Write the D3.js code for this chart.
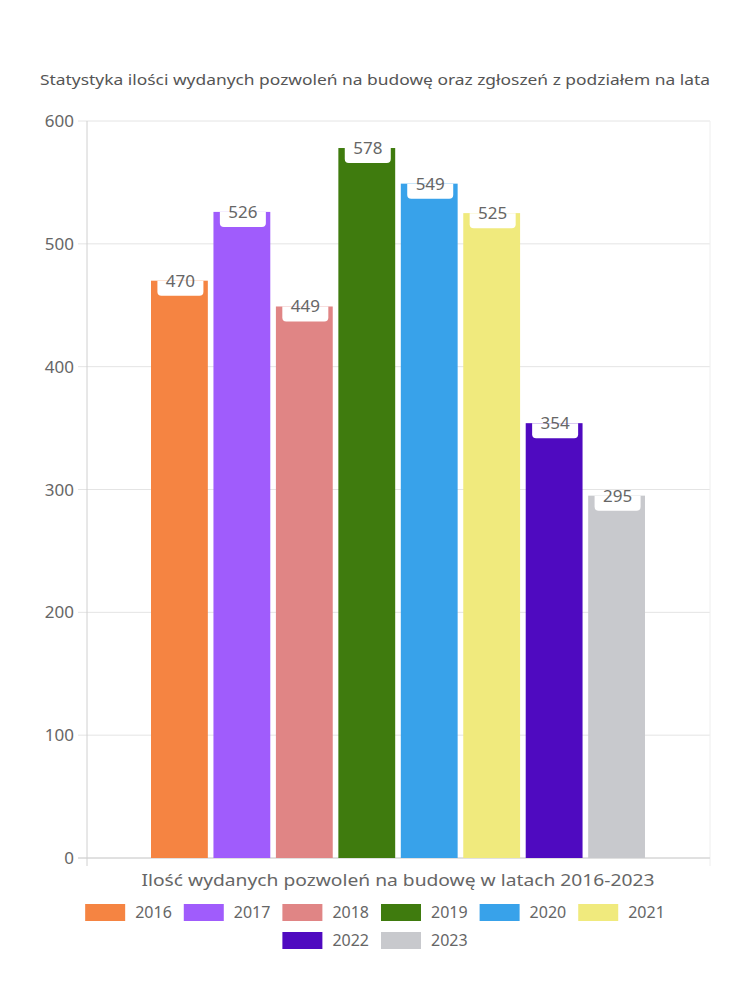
<!DOCTYPE html>
<html><head><meta charset="utf-8">
<script src="https://cdn.jsdelivr.net/npm/d3@7"></script>
<style>body{margin:0;background:#fff}svg text{font-family:"Noto Sans",sans-serif}</style>
</head><body><svg id="c" width="750" height="1000"></svg>
<script>
const years = ["2016","2017","2018","2019","2020","2021","2022","2023"];
const values = [470,526,449,578,549,525,354,295];
const colors = ["#f58442","#a05cfc","#e08585","#3f7b0e","#38a2ea","#f0ea7d","#4f0ac0","#c8c9cd"];
const yTicks = [0,100,200,300,400,500,600];
const title = "Statystyka ilości wydanych pozwoleń na budowę oraz zgłoszeń z podziałem na lata";
const xTitle = "Ilość wydanych pozwoleń na budowę w latach 2016-2023";

const svg = d3.select("#c");
const L=87,R=710,T=121,B=858;
const y = d3.scaleLinear().domain([0,600]).range([B,T]);
const x = d3.scaleBand().domain(years).range([151,645]).paddingInner(0.09).paddingOuter(0);

svg.append("text").attr("x",375).attr("y",85).attr("text-anchor","middle")
  .attr("font-size",15).attr("fill","#555").attr("textLength",670).attr("lengthAdjust","spacingAndGlyphs").text(title);

// grid
svg.append("g").selectAll("line").data(yTicks).join("line")
  .attr("x1",78).attr("x2",R).attr("y1",d=>y(d)).attr("y2",d=>y(d))
  .attr("stroke","#e4e4e4").attr("stroke-width",1);
svg.append("line").attr("x1",L).attr("x2",L).attr("y1",T).attr("y2",866).attr("stroke","#d0d0d0");
svg.append("line").attr("x1",R).attr("x2",R).attr("y1",T).attr("y2",866).attr("stroke","#eeeeee");
svg.append("line").attr("x1",78).attr("x2",R).attr("y1",B).attr("y2",B).attr("stroke","#d0d0d0");

svg.append("g").selectAll("text").data(yTicks).join("text")
  .attr("x",74).attr("y",d=>y(d)+6).attr("text-anchor","end").attr("font-size",17).attr("fill","#666").text(d=>d);

// bars
svg.append("g").selectAll("rect").data(values).join("rect")
  .attr("x",(d,i)=>x(years[i])).attr("width",x.bandwidth())
  .attr("y",d=>y(d)).attr("height",d=>B-y(d)).attr("fill",(d,i)=>colors[i]);

// labels
const lab = svg.append("g").selectAll("g").data(values).join("g")
  .attr("transform",(d,i)=>`translate(${x(years[i])+x.bandwidth()/2+1},${y(d)})`);
lab.append("path").attr("d","M-23,0 H23 V11 Q23,15 19,15 H-19 Q-23,15 -23,11 Z").attr("fill","#fff");
lab.append("text").attr("text-anchor","middle").attr("y",6).attr("font-size",17).attr("fill","#666").text(d=>d);

svg.append("text").attr("x",398).attr("y",886).attr("text-anchor","middle").attr("font-size",17).attr("fill","#666")
  .attr("textLength",513).attr("lengthAdjust","spacingAndGlyphs").text(xTitle);

// legend
const rows=[years.slice(0,6),years.slice(6)];
rows.forEach((row,ri)=>{
  const yy = 904 + ri*28;
  const lg = svg.append("g");
  let cx = 0;
  row.forEach(yr=>{
    const i=years.indexOf(yr);
    lg.append("rect").attr("x",cx).attr("y",yy).attr("width",40).attr("height",17).attr("fill",colors[i]);
    const t = lg.append("text").attr("x",cx+50).attr("y",yy+14).attr("font-size",16).attr("fill","#666").text(yr);
    cx += 50 + t.node().getComputedTextLength() + 12;
  });
  const total = cx - 12;
  lg.attr("transform",`translate(${375-total/2},0)`);
});
</script></body></html>
